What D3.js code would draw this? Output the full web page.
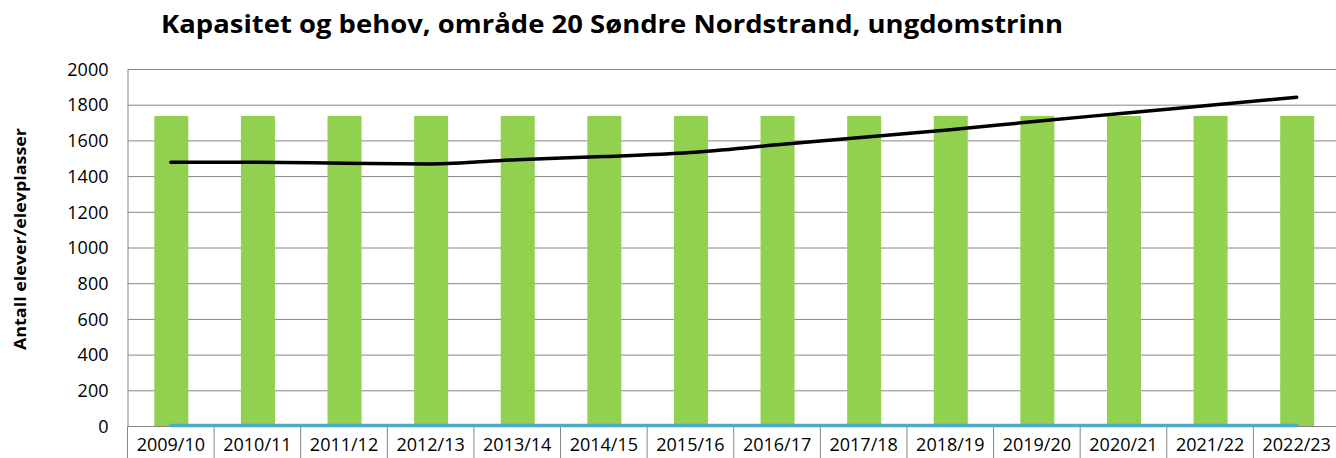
<!DOCTYPE html>
<html><head><meta charset="utf-8">
<script src="https://cdn.jsdelivr.net/npm/d3@7"></script>
<style>body{margin:0;background:#fff}svg{display:block}</style>
</head><body>
<script>
const categories = ["2009/10","2010/11","2011/12","2012/13","2013/14","2014/15","2015/16","2016/17","2017/18","2018/19","2019/20","2020/21","2021/22","2022/23"];
const kapasitet = [1740,1740,1740,1740,1740,1740,1740,1740,1740,1740,1740,1740,1740,1740];
const behov = [1481,1480,1475,1471,1495,1512,1535,1578,1620,1662,1710,1755,1800,1845];
const nullSerie = [0,0,0,0,0,0,0,0,0,0,0,0,0,0];
const yTicks = [0,200,400,600,800,1000,1200,1400,1600,1800,2000];
const title = "Kapasitet og behov, område 20 Søndre Nordstrand, ungdomstrinn";
const yLabel = "Antall elever/elevplasser";

const W = 1336, H = 458;
const m = {left:127.5, right:-4, top:69.5, bottom:31.5};
const svg = d3.select("body").append("svg").attr("width",W).attr("height",H);
const x = d3.scaleBand().domain(categories).range([m.left, W - m.right]).paddingInner(0).paddingOuter(0);
const y = d3.scaleLinear().domain([0,2000]).range([H - m.bottom, m.top]);

// grid
svg.append("g").selectAll("line").data(yTicks).join("line")
  .attr("x1", m.left).attr("x2", W - m.right)
  .attr("y1", d => y(d)).attr("y2", d => y(d))
  .attr("stroke", "#868686").attr("stroke-width", 1);

// y axis labels
const yAxis = d3.axisLeft(y).tickValues(yTicks).tickSize(0).tickPadding(19).tickFormat(d3.format("d"));
const ga = svg.append("g").attr("transform", `translate(${m.left},0)`).call(yAxis);
ga.select(".domain").attr("stroke","#868686");
ga.selectAll("text").attr("font-family","Open Sans, sans-serif").attr("font-size",18).attr("fill","#000");

// bars
const bw = 34;
svg.append("g").selectAll("rect").data(categories).join("rect")
  .attr("x", (d) => x(d) + x.bandwidth()/2 - bw/2 + 0.5)
  .attr("width", bw)
  .attr("y", (d,i) => y(kapasitet[i]))
  .attr("height", (d,i) => y(0) - y(kapasitet[i]))
  .attr("fill", "#92d050");

// x axis
const xAxis = d3.axisBottom(x).tickSize(0).tickPadding(12);
const gx = svg.append("g").attr("transform", `translate(0,${y(0)})`).call(xAxis);
gx.select(".domain").remove();
gx.selectAll("text").attr("font-family","Open Sans, sans-serif").attr("font-size",18).attr("fill","#000");
svg.append("g").selectAll("line").data(categories).join("line")
  .attr("x1", d => x(d)).attr("x2", d => x(d))
  .attr("y1", y(0)).attr("y2", H)
  .attr("stroke", "#868686");
svg.append("line").attr("x1", m.left).attr("x2", W).attr("y1", y(0)).attr("y2", y(0)).attr("stroke","#868686");

// zero series line
const cx = d => x(d) + x.bandwidth()/2;
svg.append("path").datum(nullSerie)
  .attr("d", d3.line().x((d,i) => cx(categories[i])).y(d => y(d) - 1))
  .attr("fill","none").attr("stroke","#4bacc6").attr("stroke-width",3.5).attr("stroke-linecap","round");

// behov line
svg.append("path").datum(behov)
  .attr("d", d3.line().curve(d3.curveMonotoneX).x((d,i) => cx(categories[i])).y(d => y(d)))
  .attr("fill","none").attr("stroke","#000").attr("stroke-width",3.5).attr("stroke-linecap","round");

// title
svg.append("text").attr("x", 161).attr("y", 33).attr("text-anchor","start")
  .attr("font-family","Open Sans, sans-serif").attr("font-weight","bold").attr("font-size",25)
  .attr("textLength", 902).attr("lengthAdjust","spacingAndGlyphs")
  .attr("fill","#000").text(title);

// y label
svg.append("text").attr("transform","translate(26,239) rotate(-90)").attr("text-anchor","middle")
  .attr("font-family","Open Sans, sans-serif").attr("font-weight","bold").attr("font-size",16)
  .attr("textLength", 222).attr("lengthAdjust","spacingAndGlyphs")
  .attr("fill","#000").text(yLabel);
</script>
</body></html>
